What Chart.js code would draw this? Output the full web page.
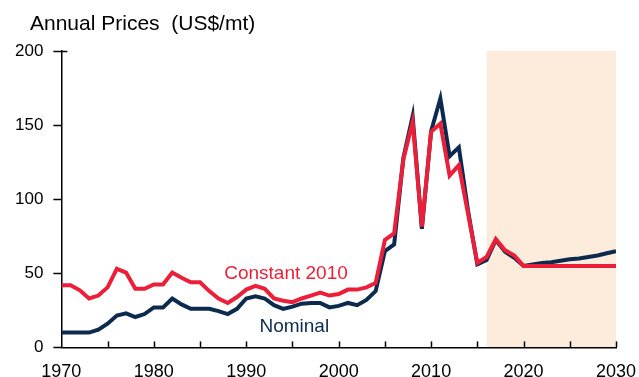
<!DOCTYPE html>
<html>
<head>
<meta charset="utf-8">
<title>Annual Prices</title>
<script src="https://cdn.jsdelivr.net/npm/chart.js@4.4.1/dist/chart.umd.min.js"></script>
<style>
    html, body { margin: 0; padding: 0; background: #fff; }
    #wrap { position: relative; width: 639px; height: 377px; }
</style>
</head>
<body>
<div id="wrap"><canvas id="chart-prices" width="639" height="377"></canvas></div>
<script>
// --------- Datos ---------
const YEARS = [
    1970, 1971, 1972, 1973, 1974, 1975, 1976, 1977, 1978, 1979,
    1980, 1981, 1982, 1983, 1984, 1985, 1986, 1987, 1988, 1989,
    1990, 1991, 1992, 1993, 1994, 1995, 1996, 1997, 1998, 1999,
    2000, 2001, 2002, 2003, 2004, 2005, 2006, 2007, 2008, 2009,
    2010, 2011, 2012, 2013, 2014, 2015, 2016, 2017, 2018, 2019,
    2020, 2021, 2022, 2023, 2024, 2025, 2026, 2027, 2028, 2029,
    2030,
];

// US$/mt, nominal
const NOMINAL = [
    10, 10, 10, 10, 12, 16, 21.5, 23, 20.5, 22.5,
    27, 27, 33, 29, 26, 26, 26, 24.5, 22.5, 26,
    33, 34.5, 33, 28.5, 26, 27.5, 29.5, 30, 30, 27,
    28, 30, 28.5, 32, 38, 65, 69.5, 128, 156, 80,
    146, 168, 129, 135, 92, 56, 59, 72.5, 64.5, 60.5,
    55, 56, 57, 57.5, 58.5, 59.5, 60, 61, 62, 63.5,
    65,
];

// US$/mt, constant 2010 dollars
const CONSTANT_2010 = [
    42, 42, 38.5, 33, 35, 40.5, 53, 50.5, 39.5, 39.5,
    42.5, 42.5, 50.5, 47, 44, 44, 38, 33, 30, 34,
    39, 41.5, 39.5, 33, 31.5, 30.5, 33, 35, 37, 35,
    36, 39, 39, 40.5, 43.5, 72.5, 77, 127, 152, 81.5,
    145.5, 151, 116, 123, 90, 57, 61, 73, 65.5, 62,
    55, 55, 55, 55, 55, 55, 55, 55, 55, 55,
    55,
];

const X_LABELS = [1970, 1980, 1990, 2000, 2010, 2020, 2030];
const X_MINOR = [1975, 1980, 1985, 1990, 1995, 2000, 2005, 2010, 2015, 2020, 2025, 2030];
const Y_TICKS = [0, 50, 100, 150, 200];
const FORECAST = [2016, 2030];

// --------- Estilos ---------
const NAVY = "#0c2a4e";
const RED = "#ec1f3a";
const SHADE = "#fdebdc";
const FONT = "'Liberation Sans', Arial, sans-serif";

const points = (vals) => YEARS.map((yr, i) => ({ x: yr, y: vals[i] }));

// Franja de proyección, marcas del eje x hacia dentro, título y rótulos de serie
const overlay = {
    id: "overlay",
    beforeDraw(chart) {
        const { ctx, chartArea, scales } = chart;
        const x0 = scales.x.getPixelForValue(FORECAST[0]);
        const x1 = scales.x.getPixelForValue(FORECAST[1]);
        ctx.save();
        ctx.fillStyle = SHADE;
        ctx.fillRect(x0, chartArea.top, x1 - x0, chartArea.bottom - chartArea.top);
        ctx.restore();
    },
    afterDraw(chart) {
        const { ctx, chartArea, scales } = chart;
        ctx.save();
        ctx.strokeStyle = "#000";
        ctx.lineWidth = 1.5;
        X_MINOR.forEach((v) => {
            const px = Math.round(scales.x.getPixelForValue(v)) + 0.5;
            ctx.beginPath();
            ctx.moveTo(px, chartArea.bottom);
            ctx.lineTo(px, chartArea.bottom - 6);
            ctx.stroke();
        });
        // remate superior del eje y
        const top = Math.round(scales.y.getPixelForValue(200)) + 0.5;
        ctx.beginPath();
        ctx.moveTo(chartArea.left, top);
        ctx.lineTo(chartArea.left + 6, top);
        ctx.stroke();

        ctx.fillStyle = "#000";
        ctx.font = `21px ${FONT}`;
        ctx.textAlign = "left";
        ctx.textBaseline = "alphabetic";
        ctx.fillText("Annual Prices  (US$/mt)", 30, 30);

        ctx.font = `19px ${FONT}`;
        ctx.textAlign = "center";
        ctx.textBaseline = "middle";
        ctx.fillStyle = RED;
        ctx.fillText("Constant 2010", scales.x.getPixelForValue(1994.3), scales.y.getPixelForValue(50));
        ctx.fillStyle = NAVY;
        ctx.fillText("Nominal", scales.x.getPixelForValue(1995.2), scales.y.getPixelForValue(14));
        ctx.restore();
    },
};

function buildChart() {
    const ctx = document.getElementById("chart-prices").getContext("2d");
    new Chart(ctx, {
        type: "line",
        data: {
            datasets: [
                {
                    label: "Constant 2010",
                    data: points(CONSTANT_2010),
                    borderColor: RED,
                    borderWidth: 4,
                    pointRadius: 0,
                    tension: 0,
                    order: 0,
                },
                {
                    label: "Nominal",
                    data: points(NOMINAL),
                    borderColor: NAVY,
                    borderWidth: 4,
                    pointRadius: 0,
                    tension: 0,
                    order: 1,
                },
            ],
        },
        options: {
            responsive: false,
            animation: false,
            devicePixelRatio: 1,
            layout: { padding: { top: 51, left: 5, right: 23, bottom: -20 } },
            plugins: {
                legend: { display: false },
                tooltip: { enabled: false },
            },
            scales: {
                x: {
                    type: "linear",
                    min: 1970,
                    max: 2030,
                    afterBuildTicks: (axis) => {
                        axis.ticks = X_LABELS.map((v) => ({ value: v }));
                    },
                    // el margen derecho lo marca layout.padding, no la etiqueta 2030
                    afterFit: (axis) => {
                        axis.paddingRight = 0;
                    },
                    grid: { display: false, drawTicks: false },
                    border: { display: true, color: "#000", width: 1.5 },
                    ticks: {
                        padding: 14,
                        color: "#000",
                        font: { family: FONT, size: 18 },
                        maxRotation: 0,
                        callback: (v) => String(v),
                    },
                },
                y: {
                    min: 0,
                    max: 200,
                    afterBuildTicks: (axis) => {
                        axis.ticks = Y_TICKS.map((v) => ({ value: v }));
                    },
                    grid: {
                        drawOnChartArea: false,
                        tickLength: 8,
                        tickColor: "#000",
                        tickWidth: 1.5,
                    },
                    border: { display: true, color: "#000", width: 1.5 },
                    ticks: {
                        padding: 10,
                        color: "#000",
                        font: { family: FONT, size: 17 },
                    },
                },
            },
        },
        plugins: [overlay],
    });
}
window.addEventListener("load", buildChart);
</script>
</body>
</html>
